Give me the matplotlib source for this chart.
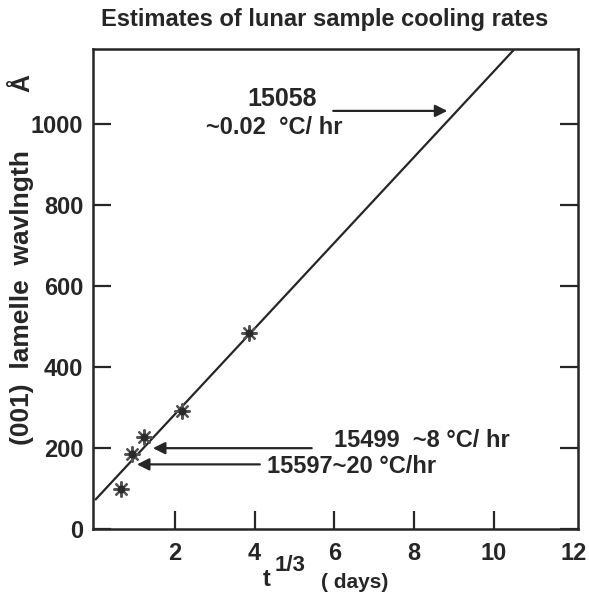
import numpy as np
from matplotlib import pyplot as plt

plt.rcParams['font.family'] = ['Liberation Sans', 'DejaVu Sans']
plt.rcParams['font.weight'] = 'bold'

ink = '#262626'

# measured samples (t^1/3 in days, wavelength in Angstrom)
sample_t = [0.65, 0.93, 1.23, 2.18, 3.85]
sample_w = [99, 185, 227, 291, 484]

# fitted line end points
fit_t = [0.0, 10.5]
fit_w = [72, 1183]

x_ticks = [2, 4, 6, 8, 10, 12]
y_ticks = [0, 200, 400, 600, 800, 1000]

# labels: (text, text pos, arrow tail, arrow head)
notes = [
    ('15499  ~8 °C/ hr', (6.0, 218), (5.5, 200), (1.38, 200)),
    ('15597~20 °C/hr', (4.3, 154), (4.2, 160), (0.98, 160)),
]

fig = plt.figure(figsize=(5.89, 5.96), dpi=100)
ax = fig.add_axes([0.158, 0.112, 0.823, 0.806])

ax.plot(fit_t, fit_w, color=ink, linewidth=1.6, solid_capstyle='butt')
ax.scatter(sample_t, sample_w, marker=(8, 2, 0), s=110, color='#555555', linewidths=1.6, zorder=3)
ax.scatter(sample_t, sample_w, marker='o', s=22, color='#2a2a2a', zorder=4)

ax.set_xlim(-0.05, 12.1)
ax.set_ylim(0, 1185)
ax.set_xticks(x_ticks)
ax.set_yticks(y_ticks)
ax.set_xticks([2, 4, 6, 8, 10], minor=True)
ax.tick_params(axis='both', which='major', direction='in', length=13, width=1.6,
               labelsize=17, colors=ink, pad=7)
ax.tick_params(axis='x', which='major', bottom=True, top=False, pad=9)
ax.tick_params(axis='x', which='minor', direction='in', length=13, width=1.6,
               top=True, bottom=False, colors=ink)
ax.tick_params(axis='y', which='major', left=True, right=True)
ax.xaxis.get_major_ticks()[-1].tick1line.set_visible(False)
for lab in ax.get_xticklabels() + ax.get_yticklabels():
    lab.set_fontweight('bold')
for s in ax.spines.values():
    s.set_linewidth(1.8)
    s.set_color(ink)

# upper label with arrow
ax.text(4.7, 1062, '15058', fontsize=18, ha='center', va='center', color=ink)
ax.text(4.5, 990, '~0.02  °C/ hr', fontsize=17, ha='center', va='center', color=ink)
ax.annotate('', xy=(8.9, 1032), xytext=(5.9, 1032),
            arrowprops=dict(arrowstyle='-|>', color=ink, lw=1.6, mutation_scale=18))

for txt, pos, tail, head in notes:
    ax.text(pos[0], pos[1], txt, fontsize=17, ha='left', va='center', color=ink)
    ax.annotate('', xy=head, xytext=tail,
                arrowprops=dict(arrowstyle='-|>', color=ink, lw=1.6, mutation_scale=18))

fig.text(0.551, 0.968, 'Estimates of lunar sample cooling rates', fontsize=17,
         ha='center', va='center', color=ink)

# axis labels
fig.text(0.038, 0.500, '(001)  lamelle  wavlngth', fontsize=19, rotation=90,
         ha='center', va='center', color=ink)
fig.text(0.038, 0.86, 'Å', fontsize=18, rotation=90, ha='center', va='center', color=ink)
fig.text(0.452, 0.028, 't', fontsize=17, ha='center', va='center', color=ink)
fig.text(0.493, 0.052, '1/3', fontsize=16, ha='center', va='center', color=ink)
fig.text(0.602, 0.022, '( days)', fontsize=15, ha='center', va='center', color=ink)

fig.savefig('out.png', dpi=100)
